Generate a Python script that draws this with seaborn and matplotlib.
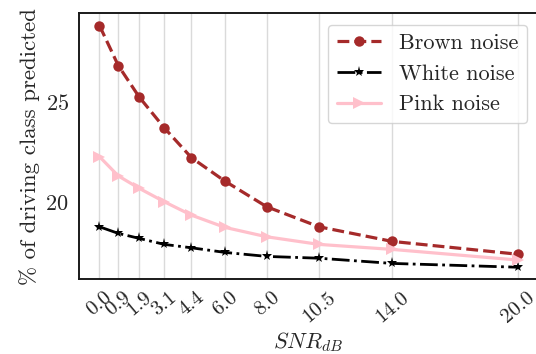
import numpy as np
import pandas as pd
import seaborn as sns
import matplotlib.pyplot as plt

# Valeurs
snr_db = [0.0, 0.9, 1.9, 3.1, 4.4, 6.0, 8.0, 10.5, 14.0, 20.0]
brown_noise = [28.8, 26.8, 25.23, 23.69, 22.2, 21.03, 19.75, 18.75, 18.02, 17.38]
white_noise = [18.75, 18.42, 18.17, 17.87, 17.70, 17.47, 17.27, 17.18, 16.92, 16.73]
pink_noise = [22.25, 21.29, 20.67, 20.0, 19.33, 18.72, 18.25, 17.87, 17.62, 17.09]
tick_labels = [f"{v:.1f}" for v in snr_db]

sns.set_style("white")
plt.rcParams['font.family'] = ['cmr10', 'DejaVu Serif']
plt.rcParams['mathtext.fontset'] = 'cm'
plt.rcParams['axes.formatter.use_mathtext'] = True

fig = plt.figure(figsize=(5.36, 3.54), dpi=100)
# l'axe dépasse légèrement à droite, comme sur l'original (bord droit coupé)
ax = fig.add_axes([0.1466, 0.211, 0.858, 0.751])

sns.lineplot(x=snr_db, y=brown_noise, ax=ax, color='brown', linestyle='--',
             marker='o', markersize=7.5, markeredgewidth=0, linewidth=2.3,
             label='Brown noise')
sns.lineplot(x=snr_db, y=white_noise, ax=ax, color='black', linestyle='-.',
             marker='*', markersize=8, markeredgewidth=0, linewidth=2.0,
             label='White noise')
sns.lineplot(x=snr_db, y=pink_noise, ax=ax, color='pink', linestyle='-',
             marker='>', markersize=8, markeredgewidth=0, linewidth=2.3,
             label='Pink noise')

ax.set_xticks(snr_db)
ax.set_xticklabels(tick_labels, rotation=40, fontsize=15)
ax.set_yticks([20, 25])
ax.tick_params(axis='y', labelsize=16)
ax.tick_params(axis='x', pad=3)
ax.grid(axis='x', color='#dadada', linewidth=1.0)
ax.set_axisbelow(True)

for spine in ax.spines.values():
    spine.set_color('#1a1a1a')
    spine.set_linewidth(1.4)

ax.set_xlabel(r"$SNR_{dB}$", fontsize=16, labelpad=3)
ax.set_ylabel("% of driving class predicted", fontsize=16.5)

ax.legend(loc='upper right', fontsize=16, frameon=True, fancybox=True,
          edgecolor='#cccccc')

plt.savefig('out.png', dpi=100)
plt.close()
